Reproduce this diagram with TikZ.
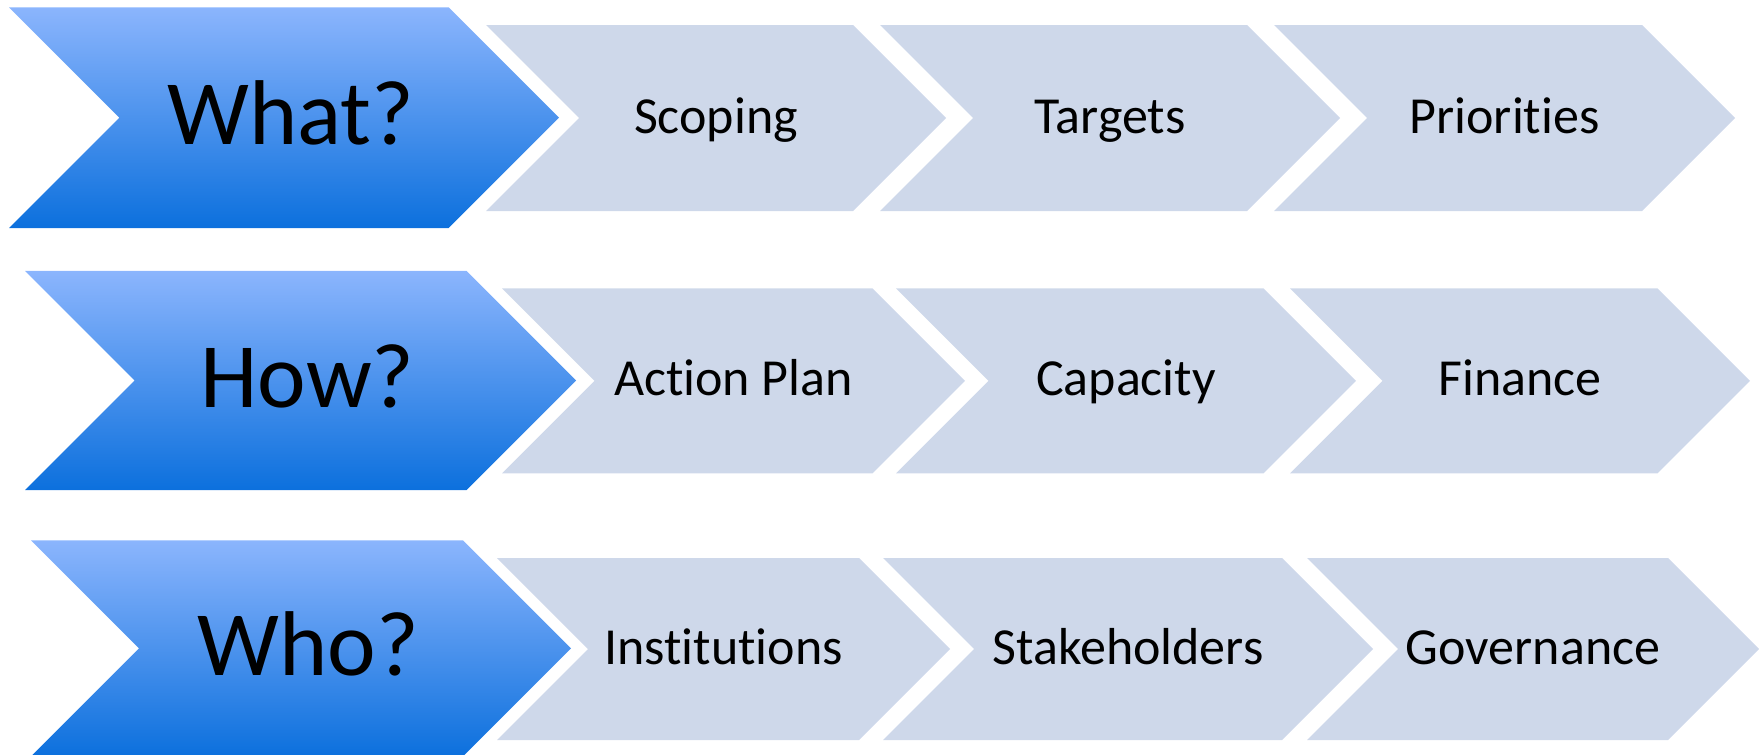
\documentclass[tikz,border=0pt]{standalone}
\usepackage{fontspec}
\setmainfont{Carlito}[Ligatures=NoCommon]
\usetikzlibrary{calc}

\definecolor{qtop}{RGB}{139,181,253}
\definecolor{qbot}{RGB}{12,112,221}
\definecolor{stepfill}{RGB}{206,216,234}

% #1 left, #2 tip, #3 middle, #4 half height, #5 style
\newcommand{\chevronpath}[5]{%
  \path[#5] ({#1},{#3-#4}) -- ({#2-#4},{#3-#4}) -- ({#2},{#3})
    -- ({#2-#4},{#3+#4}) -- ({#1},{#3+#4}) -- ({#1+#4},{#3}) -- cycle;}

\begin{document}
\begin{tikzpicture}[x=1pt,y=-1pt,
    question/.style={top color=qtop,bottom color=qbot},
    stepbox/.style={fill=stepfill},
    biglabel/.style={font=\fontsize{92}{92}\selectfont,anchor=base},
    steplabel/.style={font=\fontsize{52}{52}\selectfont,anchor=base}]
  \useasboundingbox (0,0) rectangle (1759,755);
  % question arrows
  \foreach \nm/\l/\t/\ym/\h/\txt in {what/9/559/117.7/110.3/What?,
      how/25/576/380.5/109.6/How?, who/31/571/648.3/108/Who?}{
    \chevronpath{\l}{\t}{\ym}{\h}{question}
    \node[biglabel] (\nm) at ({(\l+\t)/2+7},{\ym+27}) {\txt};
  }
  % steps
  \foreach \nm/\l/\t/\ym/\h/\txt in {
      scoping/486/946/118/93/Scoping, targets/880/1340/118/93/Targets,
      priorities/1274/1735/118/93/Priorities,
      action/502/965/380.8/92.5/Action Plan, capacity/896/1356/380.8/92.5/Capacity,
      finance/1290/1750/380.8/92.5/Finance,
      institutions/497/950/649/91/Institutions, stakeholders/883/1373/649/91/Stakeholders,
      governance/1307/1759/649/91/Governance}{
    \chevronpath{\l}{\t}{\ym}{\h}{stepbox}
    \node[steplabel] (\nm) at ({(\l+\t)/2},{\ym+15}) {\txt};
  }
\end{tikzpicture}
\end{document}
